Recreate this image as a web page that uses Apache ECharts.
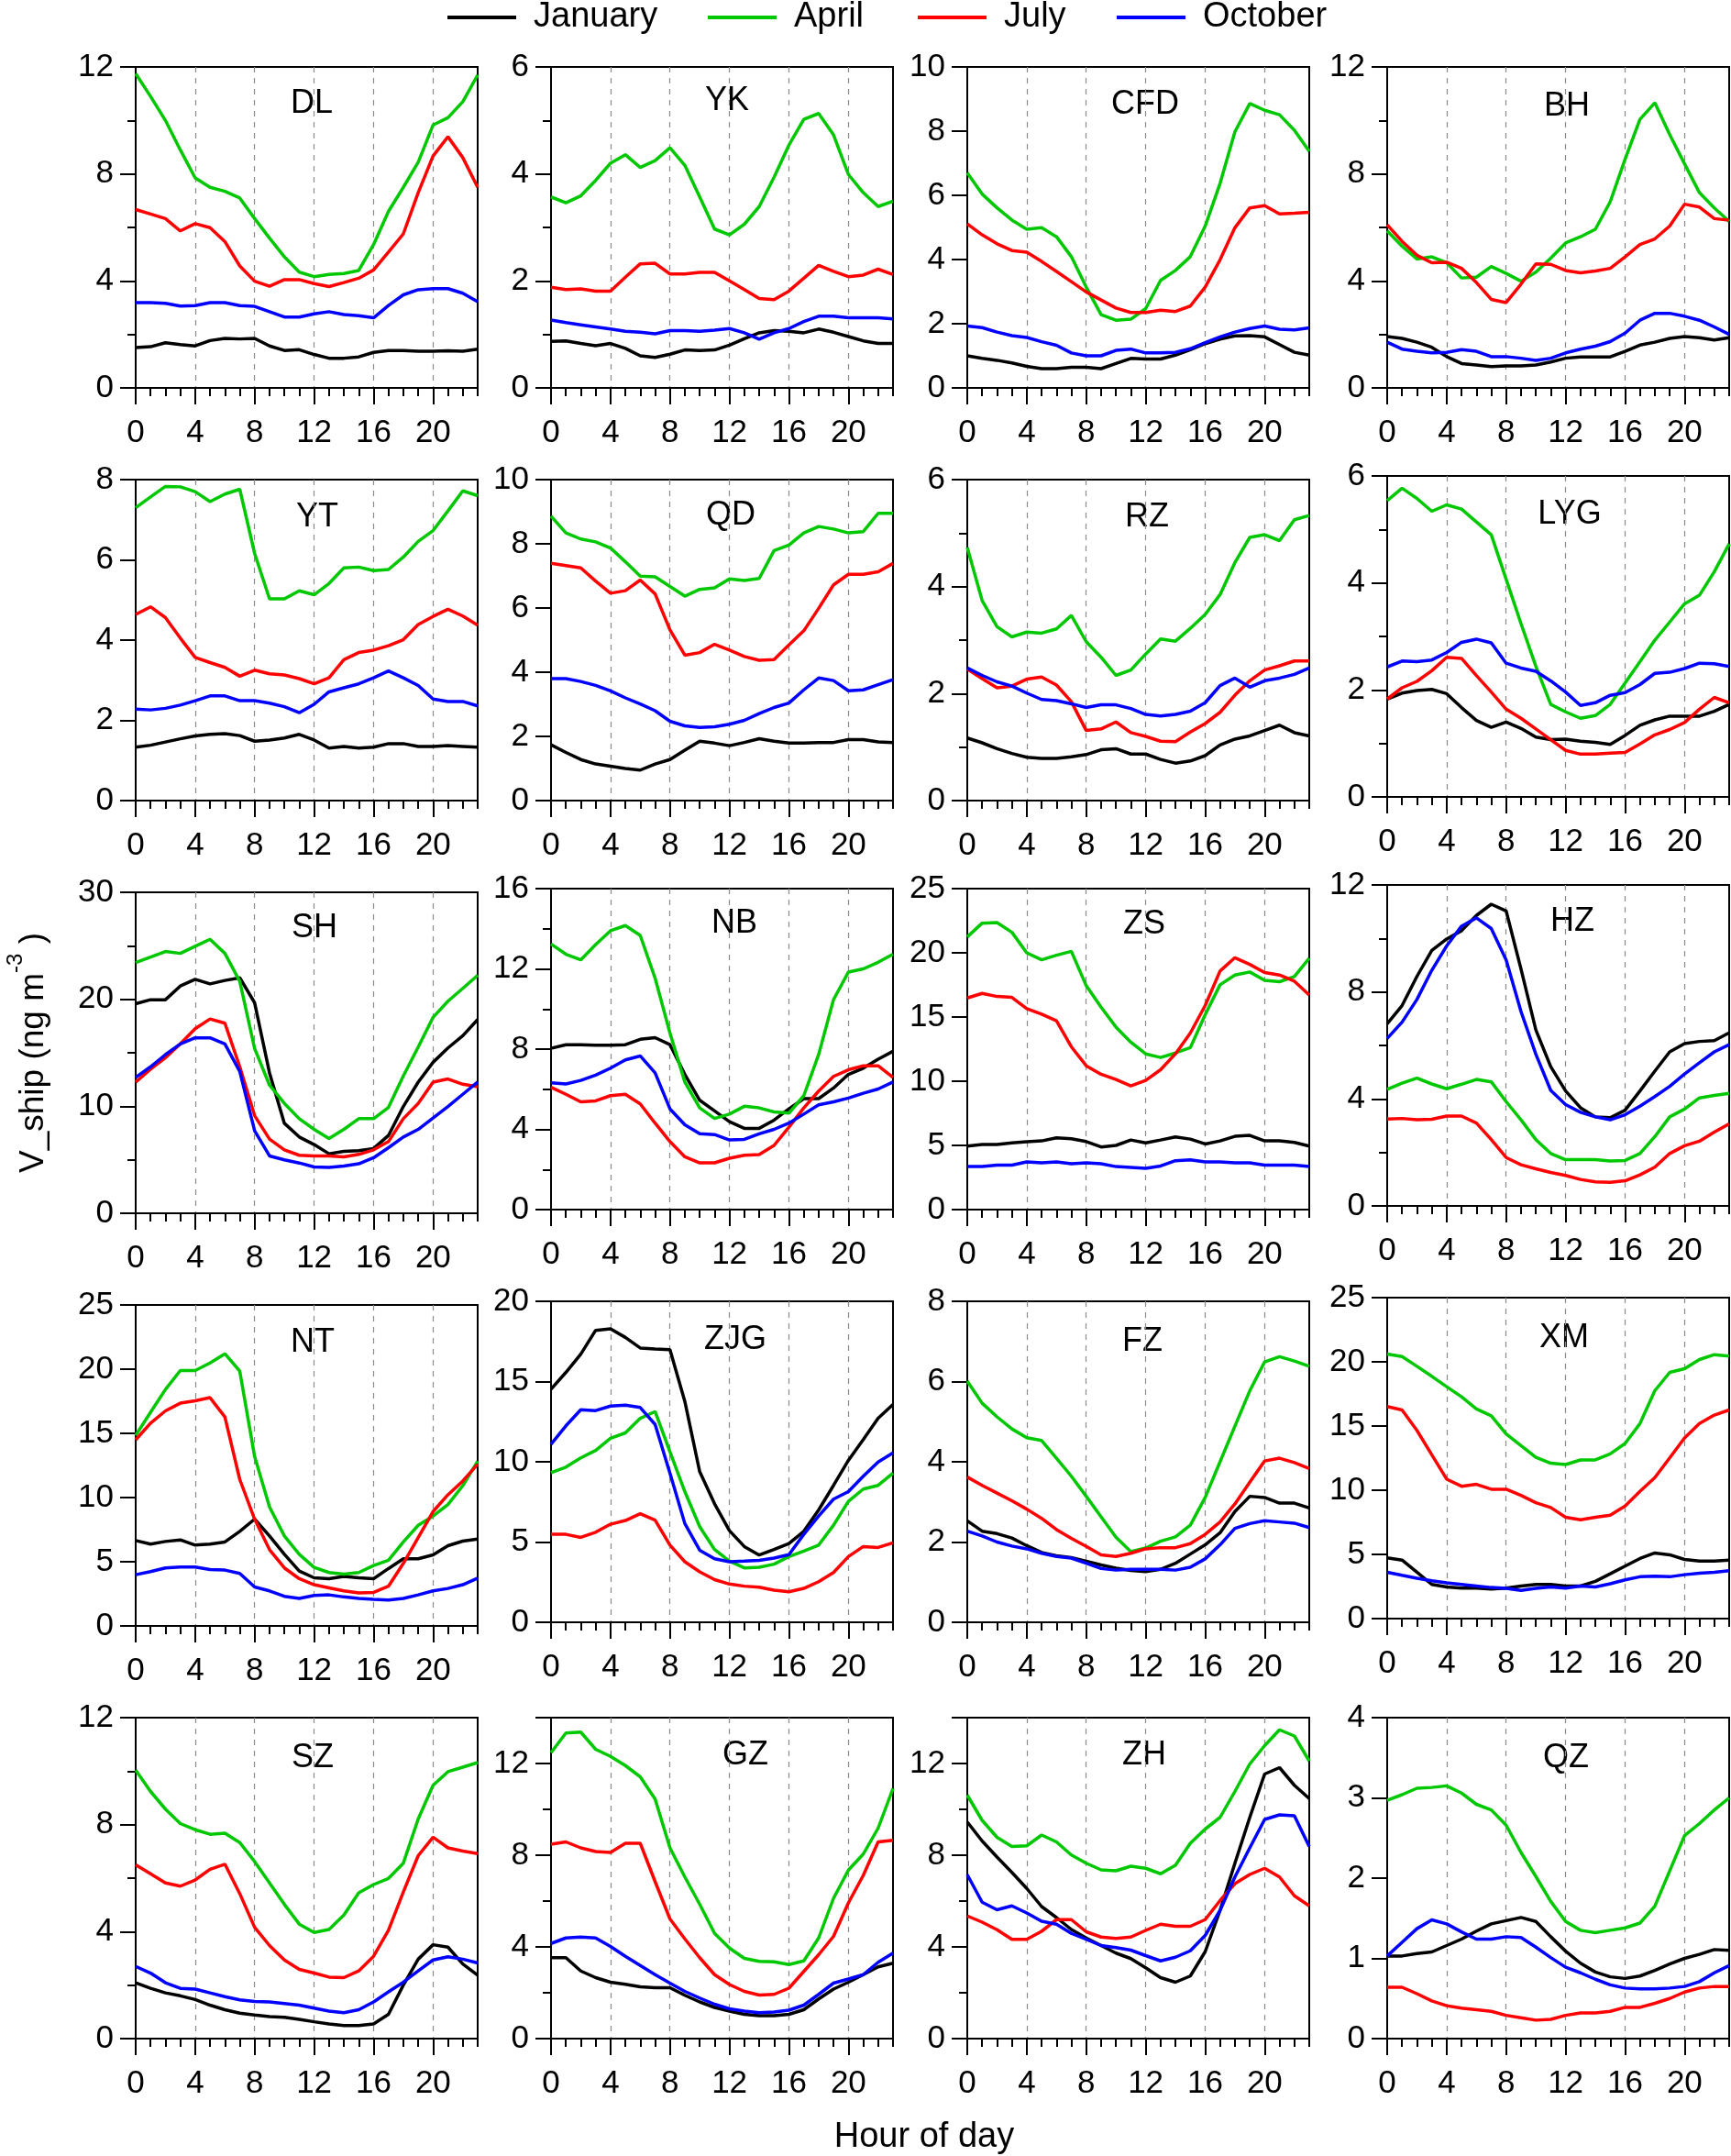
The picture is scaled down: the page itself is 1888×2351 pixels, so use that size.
<!DOCTYPE html>
<html><head><meta charset="utf-8">
<script src="https://cdn.jsdelivr.net/npm/echarts@6/dist/echarts.min.js"></script>
<style>html,body{margin:0;padding:0;background:#fff}#c{width:1888px;height:2351px}</style>
</head><body><div id="c"></div><script>
const hours = ['0','1','2','3','4','5','6','7','8','9','10','11','12','13','14','15','16','17','18','19','20','21','22','23'];
const months = ['January','April','July','October'];
const monthColors = ['#000000','#00c800','#ff0000','#0000ff'];
const stations = ['DL','YK','CFD','BH','YT','QD','RZ','LYG','SH','NB','ZS','HZ','NT','ZJG','FZ','XM','SZ','GZ','ZH','QZ'];
const yMax   = [12,6,10,12, 8,10,6,6, 30,16,25,12, 25,20,8,25, 12,14,14,4];
const yMajor = [4,2,2,4, 2,2,2,2, 10,4,5,4, 5,5,2,5, 4,4,4,1];
const yMinor = [2,1,0,2, 0,0,1,1, 5,2,0,2, 0,0,0,0, 2,2,2,0];

const DL_jan = [1.51,1.54,1.69,1.62,1.57,1.77,1.85,1.83,1.85,1.57,1.40,1.43,1.25,1.11,1.11,1.16,1.33,1.40,1.40,1.37,1.37,1.39,1.37,1.45];
const DL_apr = [11.75,10.9,10.0,8.9,7.85,7.5,7.35,7.1,6.33,5.6,4.9,4.33,4.16,4.24,4.28,4.39,5.36,6.6,7.5,8.44,9.83,10.1,10.7,11.7];
const DL_jul = [6.67,6.5,6.33,5.87,6.14,5.99,5.47,4.56,3.99,3.8,4.05,4.05,3.9,3.79,3.94,4.1,4.41,5.08,5.76,7.3,8.67,9.39,8.61,7.5];
const DL_oct = [3.19,3.19,3.16,3.06,3.08,3.19,3.19,3.08,3.05,2.85,2.65,2.65,2.77,2.85,2.74,2.7,2.62,3.08,3.48,3.67,3.71,3.71,3.54,3.22];

const YK_jan = [0.87,0.88,0.83,0.79,0.83,0.74,0.60,0.57,0.63,0.71,0.70,0.71,0.80,0.92,1.03,1.07,1.06,1.03,1.10,1.04,0.96,0.88,0.83,0.83];
const YK_apr = [3.57,3.46,3.59,3.88,4.2,4.36,4.12,4.25,4.49,4.16,3.57,2.97,2.86,3.06,3.39,3.94,4.54,5.02,5.13,4.73,3.99,3.65,3.39,3.49];
const YK_jul = [1.88,1.84,1.85,1.81,1.81,2.07,2.32,2.33,2.13,2.13,2.16,2.16,2.0,1.84,1.67,1.65,1.81,2.05,2.29,2.18,2.08,2.11,2.22,2.12];
const YK_oct = [1.27,1.22,1.18,1.14,1.10,1.06,1.04,1.01,1.07,1.07,1.06,1.08,1.11,1.03,0.91,1.03,1.11,1.24,1.34,1.34,1.31,1.31,1.31,1.29];

const CFD_jan = [1.0,0.92,0.86,0.78,0.67,0.60,0.60,0.64,0.64,0.60,0.76,0.92,0.90,0.90,1.02,1.19,1.38,1.52,1.62,1.63,1.59,1.35,1.11,1.02];
const CFD_apr = [6.70,6.04,5.61,5.23,4.94,4.99,4.71,4.09,3.14,2.28,2.11,2.14,2.47,3.35,3.66,4.09,5.04,6.37,7.98,8.86,8.65,8.51,8.03,7.37];
const CFD_jul = [5.11,4.77,4.49,4.28,4.23,3.94,3.63,3.31,2.99,2.74,2.49,2.35,2.35,2.42,2.38,2.55,3.14,3.99,4.99,5.61,5.68,5.42,5.44,5.47];
const CFD_oct = [1.93,1.88,1.74,1.63,1.57,1.44,1.33,1.09,1.00,1.00,1.17,1.21,1.09,1.09,1.11,1.22,1.41,1.59,1.74,1.85,1.93,1.83,1.81,1.87];

const BH_jan = [1.92,1.85,1.71,1.52,1.17,0.91,0.86,0.80,0.82,0.82,0.86,0.97,1.11,1.16,1.16,1.16,1.37,1.60,1.71,1.85,1.92,1.88,1.79,1.88];
const BH_apr = [5.87,5.30,4.82,4.90,4.68,4.11,4.14,4.54,4.28,3.99,4.33,4.85,5.42,5.65,5.93,6.96,8.55,10.04,10.66,9.47,8.38,7.30,6.73,6.22];
const BH_jul = [6.10,5.48,4.96,4.68,4.70,4.47,3.94,3.31,3.19,3.88,4.64,4.62,4.39,4.30,4.37,4.47,4.90,5.36,5.57,6.05,6.87,6.76,6.33,6.27];
const BH_oct = [1.71,1.45,1.37,1.31,1.33,1.43,1.37,1.17,1.17,1.11,1.03,1.11,1.31,1.45,1.56,1.73,2.05,2.53,2.79,2.79,2.68,2.53,2.28,2.0];

const YT_jan = [1.33,1.38,1.46,1.54,1.61,1.65,1.67,1.62,1.48,1.51,1.56,1.65,1.51,1.31,1.35,1.31,1.33,1.42,1.42,1.35,1.35,1.37,1.35,1.33];
const YT_apr = [7.30,7.57,7.83,7.82,7.70,7.45,7.64,7.76,6.16,5.03,5.03,5.23,5.13,5.41,5.80,5.82,5.73,5.76,6.07,6.46,6.73,7.22,7.72,7.60];
const YT_jul = [4.64,4.83,4.56,4.05,3.57,3.44,3.32,3.10,3.25,3.16,3.13,3.04,2.91,3.06,3.51,3.69,3.75,3.86,4.01,4.39,4.59,4.77,4.60,4.37];
const YT_oct = [2.28,2.26,2.30,2.38,2.49,2.61,2.61,2.49,2.49,2.43,2.34,2.19,2.40,2.71,2.81,2.91,3.06,3.23,3.06,2.87,2.53,2.47,2.47,2.36];

const QD_jan = [1.74,1.50,1.28,1.14,1.07,1.00,0.95,1.14,1.28,1.57,1.85,1.79,1.71,1.81,1.93,1.85,1.79,1.79,1.81,1.81,1.90,1.90,1.83,1.81];
const QD_apr = [8.86,8.34,8.15,8.06,7.87,7.44,6.99,6.97,6.67,6.37,6.58,6.63,6.91,6.86,6.92,7.79,7.96,8.34,8.54,8.46,8.34,8.38,8.95,8.95];
const QD_jul = [7.39,7.32,7.25,6.84,6.46,6.54,6.87,6.44,5.32,4.53,4.61,4.87,4.69,4.49,4.37,4.39,4.85,5.29,5.99,6.72,7.05,7.05,7.13,7.39];
const QD_oct = [3.80,3.80,3.71,3.59,3.42,3.20,3.01,2.80,2.47,2.33,2.28,2.30,2.38,2.50,2.71,2.90,3.04,3.45,3.82,3.74,3.42,3.45,3.61,3.77];

const RZ_jan = [1.17,1.08,0.97,0.88,0.81,0.79,0.79,0.82,0.86,0.95,0.97,0.87,0.87,0.77,0.70,0.74,0.84,1.04,1.15,1.21,1.31,1.41,1.27,1.21];
const RZ_apr = [4.73,3.74,3.25,3.06,3.15,3.13,3.21,3.46,2.97,2.68,2.34,2.44,2.74,3.02,2.98,3.22,3.48,3.85,4.45,4.92,4.97,4.86,5.25,5.33];
const RZ_jul = [2.46,2.28,2.11,2.14,2.27,2.31,2.16,1.85,1.31,1.34,1.47,1.27,1.20,1.11,1.10,1.28,1.44,1.65,1.97,2.24,2.44,2.52,2.61,2.61];
const RZ_oct = [2.48,2.34,2.22,2.14,2.01,1.89,1.87,1.81,1.74,1.79,1.79,1.72,1.61,1.58,1.61,1.67,1.83,2.15,2.29,2.12,2.24,2.29,2.36,2.48];

const LYG_jan = [1.83,1.94,1.99,2.01,1.93,1.67,1.43,1.30,1.40,1.28,1.12,1.07,1.08,1.04,1.02,0.98,1.15,1.34,1.44,1.51,1.51,1.51,1.60,1.73];
const LYG_apr = [5.54,5.77,5.58,5.34,5.46,5.38,5.14,4.90,4.07,3.24,2.44,1.73,1.59,1.47,1.52,1.73,2.13,2.53,2.93,3.27,3.61,3.77,4.21,4.73];
const LYG_jul = [1.83,2.04,2.16,2.36,2.61,2.59,2.27,1.96,1.64,1.47,1.27,1.07,0.87,0.80,0.80,0.82,0.83,0.99,1.16,1.26,1.39,1.64,1.86,1.76];
const LYG_oct = [2.43,2.54,2.53,2.56,2.70,2.89,2.95,2.88,2.50,2.41,2.35,2.17,1.96,1.71,1.76,1.90,1.95,2.10,2.31,2.33,2.40,2.50,2.49,2.44];

const SH_jan = [19.59,19.96,19.96,21.24,21.87,21.44,21.76,22.01,19.67,13.12,8.41,7.13,6.42,5.56,5.79,5.85,6.05,7.27,9.98,12.26,14.11,15.45,16.60,18.11];
const SH_apr = [23.44,23.95,24.47,24.29,24.95,25.61,24.29,21.67,15.40,11.98,10.27,8.84,7.84,6.99,7.84,8.84,8.84,9.89,12.83,15.54,18.31,19.82,21.02,22.24];
const SH_jul = [12.26,13.46,14.54,15.83,17.25,18.16,17.76,13.69,9.12,6.93,5.93,5.42,5.36,5.36,5.28,5.50,5.93,6.70,8.84,10.27,12.26,12.55,12.06,11.83];
const SH_oct = [12.69,13.69,14.83,15.83,16.40,16.40,15.83,13.26,7.70,5.36,4.99,4.70,4.33,4.28,4.42,4.62,5.19,6.13,7.13,7.84,8.90,9.98,11.12,12.26];

const NB_jan = [8.04,8.22,8.22,8.19,8.19,8.22,8.49,8.57,8.22,6.74,5.45,4.92,4.38,4.05,4.05,4.46,5.02,5.53,5.53,6.06,6.74,7.05,7.50,7.89];
const NB_apr = [13.24,12.73,12.45,13.21,13.90,14.16,13.67,11.54,8.80,6.36,5.07,4.54,4.76,5.15,5.07,4.87,4.81,5.68,7.73,10.47,11.84,12.00,12.33,12.73];
const NB_jul = [6.10,5.75,5.37,5.42,5.68,5.75,5.27,4.31,3.39,2.63,2.33,2.33,2.56,2.71,2.74,3.20,4.11,5.07,5.91,6.64,6.97,7.17,7.17,6.59];
const NB_oct = [6.32,6.26,6.44,6.70,7.05,7.46,7.66,6.82,5.02,4.23,3.78,3.74,3.47,3.50,3.78,4.00,4.31,4.76,5.22,5.37,5.56,5.80,6.01,6.36];

const ZS_jan = [4.95,5.07,5.07,5.19,5.28,5.35,5.59,5.52,5.30,4.88,5.00,5.42,5.19,5.42,5.66,5.49,5.11,5.35,5.71,5.78,5.35,5.35,5.23,4.95];
const ZS_apr = [21.24,22.31,22.36,21.60,20.00,19.46,19.81,20.12,17.44,15.77,14.22,13.04,12.13,11.85,12.20,12.61,15.18,17.51,18.27,18.51,17.86,17.75,18.15,19.58];
const ZS_jul = [16.48,16.84,16.60,16.53,15.65,15.22,14.70,12.68,11.20,10.54,10.13,9.63,10.06,10.89,12.13,13.75,15.89,18.58,19.62,19.10,18.46,18.27,17.79,16.72];
const ZS_oct = [3.35,3.35,3.47,3.47,3.71,3.64,3.71,3.57,3.64,3.57,3.35,3.28,3.21,3.40,3.81,3.88,3.71,3.71,3.64,3.64,3.47,3.47,3.47,3.35];

const HZ_jan = [6.81,7.49,8.58,9.55,9.98,10.29,10.86,11.28,11.03,8.86,6.58,5.21,4.30,3.67,3.33,3.30,3.58,4.30,5.04,5.76,6.07,6.15,6.18,6.47];
const HZ_apr = [4.36,4.59,4.78,4.56,4.38,4.55,4.73,4.64,3.90,3.22,2.48,1.96,1.73,1.73,1.73,1.68,1.70,1.96,2.59,3.33,3.62,4.04,4.13,4.21];
const HZ_jul = [3.25,3.27,3.22,3.24,3.36,3.36,3.10,2.48,1.81,1.54,1.39,1.25,1.14,0.99,0.90,0.88,0.94,1.16,1.45,1.96,2.25,2.42,2.76,3.07];
const HZ_oct = [6.26,6.87,7.72,8.81,9.72,10.46,10.77,10.37,9.20,7.27,5.67,4.32,3.79,3.50,3.33,3.22,3.41,3.73,4.09,4.47,4.93,5.35,5.76,6.03];

const NT_jan = [6.65,6.37,6.58,6.70,6.30,6.37,6.54,7.37,8.32,7.01,5.58,4.28,3.75,3.68,3.85,3.75,3.68,4.47,5.23,5.23,5.54,6.25,6.61,6.77];
const NT_apr = [14.85,16.64,18.42,19.89,19.89,20.48,21.20,19.84,13.19,9.27,7.01,5.58,4.56,4.16,4.04,4.16,4.71,5.11,6.54,7.84,8.56,9.46,10.93,12.83];
const NT_jul = [14.50,15.80,16.75,17.35,17.54,17.78,16.28,11.41,8.32,5.94,4.52,3.68,3.21,2.97,2.73,2.57,2.61,3.09,4.87,6.89,8.91,10.22,11.29,12.60];
const NT_oct = [3.99,4.23,4.52,4.59,4.59,4.40,4.35,4.09,3.04,2.73,2.31,2.14,2.38,2.42,2.26,2.14,2.07,2.02,2.14,2.42,2.73,2.92,3.21,3.73];

const ZJG_jan = [14.52,15.57,16.71,18.19,18.29,17.75,17.09,17.03,16.99,13.76,9.38,7.38,5.71,4.72,4.19,4.53,4.91,5.67,7.00,8.53,10.09,11.38,12.71,13.57];
const ZJG_apr = [9.32,9.67,10.24,10.71,11.47,11.80,12.71,13.13,10.62,8.14,5.96,4.53,3.81,3.39,3.43,3.62,4.09,4.43,4.81,6.05,7.54,8.30,8.53,9.29];
const ZJG_jul = [5.48,5.48,5.29,5.61,6.11,6.34,6.76,6.37,4.81,3.77,3.14,2.66,2.38,2.25,2.19,2.00,1.90,2.11,2.53,3.10,4.09,4.72,4.66,4.95];
const ZJG_oct = [11.09,12.24,13.24,13.19,13.47,13.53,13.38,12.33,9.29,6.15,4.49,3.96,3.77,3.81,3.86,4.00,4.21,5.48,6.62,7.67,8.14,9.10,9.99,10.56];

const FZ_jan = [2.53,2.27,2.21,2.10,1.91,1.74,1.66,1.61,1.52,1.43,1.35,1.29,1.26,1.32,1.47,1.70,1.93,2.23,2.76,3.14,3.11,2.97,2.97,2.85];
const FZ_apr = [6.01,5.46,5.12,4.82,4.60,4.53,4.09,3.64,3.14,2.63,2.12,1.76,1.85,2.02,2.13,2.42,3.11,4.00,4.89,5.77,6.49,6.62,6.51,6.38];
const FZ_jul = [3.62,3.41,3.22,3.03,2.82,2.59,2.31,2.09,1.89,1.68,1.64,1.72,1.83,1.86,1.86,1.96,2.19,2.50,2.95,3.49,4.02,4.09,3.98,3.83];
const FZ_oct = [2.27,2.15,2.00,1.90,1.83,1.72,1.64,1.60,1.47,1.34,1.30,1.32,1.32,1.32,1.30,1.37,1.58,1.93,2.34,2.46,2.53,2.50,2.47,2.36];

const XM_jan = [4.73,4.56,3.61,2.66,2.47,2.38,2.38,2.31,2.38,2.54,2.66,2.66,2.54,2.54,2.90,3.49,4.09,4.68,5.11,4.97,4.61,4.49,4.49,4.56];
const XM_apr = [20.60,20.41,19.65,18.87,18.06,17.28,16.33,15.80,14.38,13.47,12.57,12.10,12.00,12.36,12.36,12.83,13.64,15.19,17.75,19.18,19.46,20.18,20.56,20.44];
const XM_jul = [16.52,16.25,14.66,12.76,10.86,10.31,10.46,10.08,10.08,9.60,9.03,8.65,7.89,7.70,7.89,8.06,8.77,9.91,10.98,12.52,14.07,15.19,15.85,16.25];
const XM_oct = [3.61,3.37,3.14,2.95,2.78,2.66,2.54,2.42,2.35,2.19,2.35,2.47,2.38,2.54,2.47,2.71,3.02,3.26,3.30,3.26,3.42,3.54,3.61,3.73];

const SZ_jan = [2.09,1.88,1.71,1.60,1.46,1.25,1.08,0.95,0.88,0.82,0.80,0.72,0.63,0.55,0.49,0.49,0.55,0.91,2.00,2.97,3.51,3.42,2.79,2.37];
const SZ_apr = [10.04,9.24,8.58,8.04,7.81,7.64,7.68,7.33,6.62,5.82,5.02,4.28,3.97,4.08,4.62,5.45,5.76,5.99,6.56,8.21,9.47,9.98,10.15,10.32];
const SZ_jul = [6.50,6.16,5.82,5.70,5.93,6.33,6.52,5.42,4.16,3.48,2.94,2.59,2.45,2.30,2.28,2.53,3.08,4.05,5.48,6.84,7.53,7.13,7.01,6.92];
const SZ_oct = [2.70,2.45,2.09,1.88,1.85,1.71,1.57,1.45,1.39,1.37,1.31,1.25,1.14,1.03,0.97,1.08,1.37,1.75,2.11,2.53,2.94,3.06,2.97,2.83];

const GZ_jan = [3.53,3.53,2.95,2.66,2.46,2.37,2.26,2.22,2.22,1.89,1.60,1.36,1.20,1.06,1.00,1.00,1.06,1.26,1.73,2.16,2.46,2.79,3.13,3.29];
const GZ_apr = [12.47,13.33,13.37,12.62,12.31,11.91,11.42,10.45,8.32,7.05,5.86,4.59,3.95,3.50,3.37,3.35,3.23,3.39,4.39,6.12,7.35,8.05,9.18,10.91];
const GZ_jul = [8.48,8.58,8.32,8.16,8.12,8.52,8.52,6.85,5.22,4.35,3.53,2.79,2.36,2.06,1.90,1.93,2.20,2.93,3.66,4.46,5.92,7.12,8.58,8.65];
const GZ_oct = [4.15,4.39,4.43,4.39,4.02,3.59,3.19,2.79,2.42,2.06,1.77,1.50,1.30,1.20,1.13,1.16,1.24,1.46,1.93,2.42,2.60,2.79,3.33,3.73];

const ZH_jan = [9.45,8.62,7.92,7.25,6.55,5.76,5.28,4.76,4.39,4.06,3.73,3.49,3.09,2.66,2.46,2.73,3.79,5.59,7.65,9.65,11.54,11.82,11.05,10.47];
const ZH_apr = [10.62,9.52,8.78,8.38,8.41,8.88,8.58,8.01,7.65,7.36,7.32,7.52,7.43,7.19,7.56,8.52,9.14,9.65,10.78,11.98,12.78,13.47,13.20,12.11];
const ZH_jul = [5.35,5.08,4.75,4.33,4.33,4.68,5.19,5.19,4.66,4.43,4.37,4.43,4.72,4.99,4.90,4.90,5.19,6.02,6.76,7.16,7.43,7.05,6.23,5.79];
const ZH_oct = [7.15,5.95,5.62,5.79,5.48,5.12,4.99,4.59,4.33,4.06,3.97,3.86,3.62,3.39,3.55,3.83,4.50,5.59,7.05,8.32,9.56,9.76,9.72,8.38];

const QZ_jan = [1.03,1.03,1.06,1.08,1.16,1.24,1.34,1.43,1.47,1.51,1.46,1.27,1.09,0.94,0.83,0.77,0.75,0.78,0.85,0.93,1.00,1.05,1.11,1.10];
const QZ_apr = [2.97,3.04,3.12,3.13,3.15,3.06,2.92,2.85,2.66,2.32,2.02,1.71,1.46,1.35,1.32,1.35,1.38,1.44,1.65,2.09,2.53,2.68,2.85,3.00];
const QZ_jul = [0.64,0.64,0.56,0.47,0.41,0.38,0.36,0.34,0.29,0.26,0.23,0.24,0.29,0.32,0.32,0.34,0.39,0.39,0.44,0.50,0.58,0.63,0.65,0.65];
const QZ_oct = [1.03,1.20,1.37,1.48,1.43,1.33,1.24,1.24,1.27,1.26,1.14,1.01,0.89,0.82,0.74,0.67,0.63,0.62,0.62,0.63,0.65,0.71,0.82,0.91];

const stationSeries = {
  DL:[DL_jan,DL_apr,DL_jul,DL_oct], YK:[YK_jan,YK_apr,YK_jul,YK_oct], CFD:[CFD_jan,CFD_apr,CFD_jul,CFD_oct], BH:[BH_jan,BH_apr,BH_jul,BH_oct],
  YT:[YT_jan,YT_apr,YT_jul,YT_oct], QD:[QD_jan,QD_apr,QD_jul,QD_oct], RZ:[RZ_jan,RZ_apr,RZ_jul,RZ_oct], LYG:[LYG_jan,LYG_apr,LYG_jul,LYG_oct],
  SH:[SH_jan,SH_apr,SH_jul,SH_oct], NB:[NB_jan,NB_apr,NB_jul,NB_oct], ZS:[ZS_jan,ZS_apr,ZS_jul,ZS_oct], HZ:[HZ_jan,HZ_apr,HZ_jul,HZ_oct],
  NT:[NT_jan,NT_apr,NT_jul,NT_oct], ZJG:[ZJG_jan,ZJG_apr,ZJG_jul,ZJG_oct], FZ:[FZ_jan,FZ_apr,FZ_jul,FZ_oct], XM:[XM_jan,XM_apr,XM_jul,XM_oct],
  SZ:[SZ_jan,SZ_apr,SZ_jul,SZ_oct], GZ:[GZ_jan,GZ_apr,GZ_jul,GZ_oct], ZH:[ZH_jan,ZH_apr,ZH_jul,ZH_oct], QZ:[QZ_jan,QZ_apr,QZ_jul,QZ_oct]
};

// ---- layout (pixels) ----
const FONT = "'Liberation Sans', Arial, sans-serif";
const colLeft = [148, 601, 1055, 1513];
const rowTops = [[73,73,73,73],[523,523,523,519],[973,969,969,965],[1423,1419,1419,1415],[1873,1873,1873,1873]];
const gridW = 373, gridH = 350;
const titlePos = [[340,113],[793,110],[1249,114],[1709,116],[346,564],[797,562],[1251,564],[1712,561],
  [343,1012],[801,1007],[1248,1008],[1715,1005],[341,1464],[802,1461],[1246,1463],[1706,1459],
  [341,1917],[813,1914],[1248,1914],[1708,1917]];
const legendLeft = [488, 772, 1001, 1218];

const grids = [], xAxes = [], yAxes = [], series = [], graphics = [];
stations.forEach((st, i) => {
  const r = Math.floor(i / 4), c = i % 4;
  grids.push({left: colLeft[c], top: rowTops[r][c], width: gridW, height: gridH, show: true,
    borderColor: '#000', borderWidth: 2, backgroundColor: 'transparent', containLabel: false, outerBoundsMode: 'none'});
  const xMajorIdx = xAxes.length;
  xAxes.push({type: 'category', gridIndex: i, data: hours, boundaryGap: false, position: 'bottom',
    axisLine: {show: true, onZero: false, lineStyle: {color: '#000', width: 2}},
    axisTick: {show: true, interval: (idx) => idx % 4 === 0, length: 18, lineStyle: {color: '#000', width: 2}},
    axisLabel: {show: true, interval: (idx) => idx % 4 === 0, color: '#000', fontSize: 35, fontFamily: FONT, margin: 32},
    splitLine: {show: true, interval: (idx) => idx % 4 === 0 && idx > 0 && idx < 23,
      lineStyle: {color: '#8a8a8a', width: 1.2, type: [6, 6]}}
  });
  xAxes.push({type: 'category', gridIndex: i, data: hours, boundaryGap: false, position: 'bottom',
    axisLine: {show: false, onZero: false},
    axisTick: {show: true, interval: 0, length: 9, lineStyle: {color: '#000', width: 2}},
    axisLabel: {show: false}, splitLine: {show: false}
  });
  const yMajorIdx = yAxes.length;
  const maj = yMajor[i];
  yAxes.push({type: 'value', gridIndex: i, min: 0, max: yMax[i], interval: maj, position: 'left',
    axisLine: {show: true, onZero: false, lineStyle: {color: '#000', width: 2}},
    axisTick: {show: true, length: 17, lineStyle: {color: '#000', width: 2}},
    axisLabel: {show: true, color: '#000', fontSize: 35, fontFamily: FONT, margin: 24,
      formatter: (v) => (Math.abs(v / maj - Math.round(v / maj)) < 1e-6 ? String(v) : '')},
    splitLine: {show: false}
  });
  if (yMinor[i] > 0) {
    yAxes.push({type: 'value', gridIndex: i, min: 0, max: yMax[i], interval: yMinor[i], position: 'left',
      axisLine: {show: false, onZero: false},
      axisTick: {show: true, length: 9, lineStyle: {color: '#000', width: 2}},
      axisLabel: {show: false}, splitLine: {show: false}
    });
  }
  stationSeries[st].forEach((vals, m) => {
    series.push({name: months[m], type: 'line', xAxisIndex: xMajorIdx, yAxisIndex: yMajorIdx,
      data: vals, showSymbol: false, symbol: 'none', smooth: false,
      lineStyle: {color: monthColors[m], width: 3.5}, itemStyle: {color: monthColors[m]},
      emphasis: {disabled: true}, silent: true, z: 3 + m});
  });
  graphics.push({type: 'text', x: titlePos[i][0], y: titlePos[i][1],
    style: {text: st, fontSize: 36, fontFamily: FONT, fill: '#000', align: 'center', verticalAlign: 'middle'}});
});

graphics.push({type: 'text', x: 1008, y: 2331,
  style: {text: 'Hour of day', fontSize: 38, fontFamily: FONT, fill: '#000', align: 'center', verticalAlign: 'middle'}});
graphics.push({type: 'text', x: 37, y: 1148, rotation: Math.PI / 2,
  style: {text: '{a|V_ship (ng m}{b|-3}{a| )}', fontFamily: FONT, fill: '#000', align: 'center', verticalAlign: 'middle',
    rich: {a: {fontSize: 37, fontFamily: FONT, fill: '#000', verticalAlign: 'middle'},
           b: {fontSize: 24, fontFamily: FONT, fill: '#000', padding: [0, 0, 40, 0], verticalAlign: 'middle'}}}});

const legends = months.map((m, k) => ({
  data: [m], left: legendLeft[k], top: 0, padding: 0, orient: 'horizontal',
  icon: 'rect', itemWidth: 75, itemHeight: 4, selectedMode: false,
  textStyle: {fontSize: 38, fontFamily: FONT, color: '#000', padding: [0, 0, 0, 14]}
}));

const chart = echarts.init(document.getElementById('c'), null, {renderer: 'canvas'});
chart.setOption({
  animation: false, backgroundColor: '#fff',
  grid: grids, xAxis: xAxes, yAxis: yAxes, series: series, legend: legends, graphic: graphics
});
</script></body></html>
